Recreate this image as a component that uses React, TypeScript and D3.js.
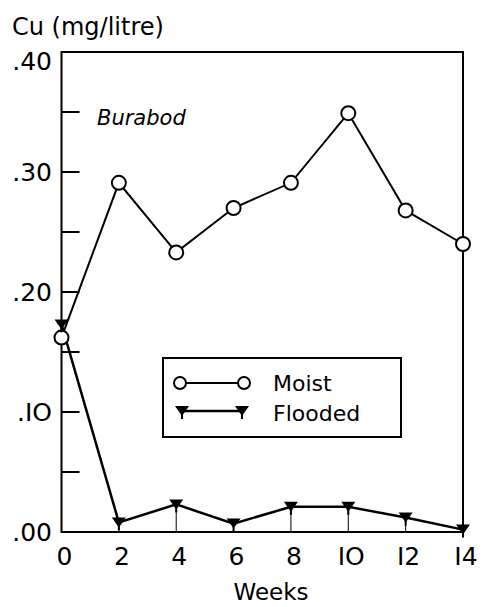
import React from "react";
import { scaleLinear, line } from "d3";

const weeks = [0, 2, 4, 6, 8, 10, 12, 14];
const moist = [0.162, 0.291, 0.233, 0.27, 0.291, 0.349, 0.268, 0.24];
const flooded = [0.173, 0.008, 0.023, 0.007, 0.021, 0.021, 0.012, 0.002];
const yTicks = [0, 0.1, 0.2, 0.3, 0.4];
const yMinorTicks = [0.05, 0.1, 0.15, 0.2, 0.25, 0.3, 0.35];
const yTickLabels = [".00", ".IO", ".20", ".30", ".40"];
const xTickLabels = ["0", "2", "4", "6", "8", "IO", "I2", "I4"];

const W = 484;
const H = 607;
const left = 61.5;
const right = 463;
const top = 52;
const bottom = 532;

const x = scaleLinear().domain([0, 14]).range([left, right]);
const y = scaleLinear().domain([0, 0.4]).range([bottom, top]);

const pathOf = line<[number, number]>()
  .x(d => x(d[0]))
  .y(d => y(d[1]));

const font = "'DejaVu Sans', sans-serif";

function Tri({ cx, cy }: { cx: number; cy: number }) {
  return (
    <g>
      <path d={`M${cx - 7},${cy - 5} L${cx + 7},${cy - 5} L${cx},${cy + 5} Z`} fill="#000" />
      <line x1={cx} y1={cy} x2={cx} y2={cy + 8} stroke="#000" strokeWidth={2} />
    </g>
  );
}

export default function App() {
  const moistPts = weeks.map((w, i) => [w, moist[i]] as [number, number]);
  const floodPts = weeks.map((w, i) => [w, flooded[i]] as [number, number]);

  return (
    <>
      <style>{`body{margin:0}`}</style>
      <svg width={W} height={H} style={{ display: "block", background: "#fff" }}>
        {/* frame */}
        <path
          d={`M${left},${bottom} L${left},${top} L${right},${top} L${right},${bottom} Z`}
          fill="none"
          stroke="#000"
          strokeWidth={2}
        />
        {yMinorTicks.map(t => (
          <line key={t} x1={left} x2={left + 18} y1={y(t)} y2={y(t)} stroke="#000" strokeWidth={2} />
        ))}
        {yTicks.map((t, i) => (
          <text
            key={t}
            x={52}
            y={y(t) + (t === 0.4 ? 9 : 0)}
            dy="0.36em"
            textAnchor="end"
            fontFamily={font}
            fontSize={25}
          >
            {yTickLabels[i]}
          </text>
        ))}
        {weeks.map((w, i) => (
          <text key={w} x={x(w) + 3} y={565} textAnchor="middle" fontFamily={font} fontSize={25}>
            {xTickLabels[i]}
          </text>
        ))}
        <text x={12} y={35} fontFamily={font} fontSize={24}>Cu (mg/litre)</text>
        <text x={271} y={600} textAnchor="middle" fontFamily={font} fontSize={23}>Weeks</text>
        <text x={97} y={125} fontFamily={font} fontSize={21} fontStyle="italic">Burabod</text>

        {/* flooded drop lines */}
        {floodPts.map(d => (
          <line key={d[0]} x1={x(d[0])} x2={x(d[0])} y1={y(d[1])} y2={bottom} stroke="#000" strokeWidth={1} />
        ))}
        <path d={pathOf(moistPts) || ""} fill="none" stroke="#000" strokeWidth={2} />
        <path d={pathOf(floodPts) || ""} fill="none" stroke="#000" strokeWidth={2.5} />
        {moistPts.map(d => (
          <circle key={d[0]} cx={x(d[0])} cy={y(d[1])} r={7} fill="#fff" stroke="#000" strokeWidth={2} />
        ))}
        {floodPts.map(d => (
          <Tri key={d[0]} cx={x(d[0])} cy={y(d[1])} />
        ))}

        {/* legend */}
        <rect x={163} y={358} width={238} height={79} fill="#fff" stroke="#000" strokeWidth={2} />
        <line x1={180} x2={244} y1={383} y2={383} stroke="#000" strokeWidth={2} />
        <circle cx={180} cy={383} r={6} fill="#fff" stroke="#000" strokeWidth={2} />
        <circle cx={244} cy={383} r={6} fill="#fff" stroke="#000" strokeWidth={2} />
        <text x={273} y={383} dy="0.36em" fontFamily={font} fontSize={22}>Moist</text>
        <line x1={180} x2={244} y1={411} y2={411} stroke="#000" strokeWidth={2.5} />
        <Tri cx={182} cy={411} />
        <Tri cx={242} cy={411} />
        <text x={273} y={413} dy="0.36em" fontFamily={font} fontSize={22}>Flooded</text>
      </svg>
    </>
  );
}
